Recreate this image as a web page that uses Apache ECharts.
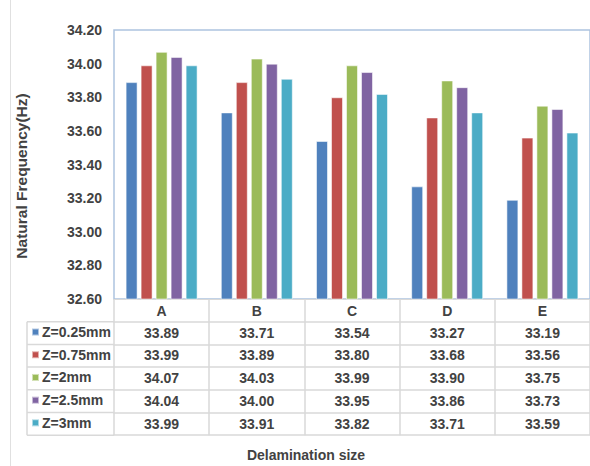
<!DOCTYPE html>
<html>
<head>
<meta charset="utf-8">
<script src="https://cdn.jsdelivr.net/npm/echarts@6/dist/echarts.min.js"></script>
<style>
  html, body { margin: 0; padding: 0; background: #ffffff; }
  #chart { width: 590px; height: 466px; }
</style>
</head>
<body>
<div id="chart"></div>
<script>
// Categories (delamination size) and natural frequency per layer position
const categories = ['A', 'B', 'C', 'D', 'E'];
const seriesNames = ['Z=0.25mm', 'Z=0.75mm', 'Z=2mm', 'Z=2.5mm', 'Z=3mm'];
const z025 = [33.89, 33.71, 33.54, 33.27, 33.19];
const z075 = [33.99, 33.89, 33.80, 33.68, 33.56];
const z2   = [34.07, 34.03, 33.99, 33.90, 33.75];
const z25  = [34.04, 34.00, 33.95, 33.86, 33.73];
const z3   = [33.99, 33.91, 33.82, 33.71, 33.59];
const yMin = 32.6, yMax = 34.2, yStep = 0.2;

const seriesValues = [z025, z075, z2, z25, z3];
const palette = ['#4f81bd', '#c0504d', '#9bbb59', '#8064a2', '#4bacc6'];

// Layout
const W = 590, H = 466;
const gridLeft = 114, gridTop = 30, gridRight = -14, plotBottom = 299;
const rowH = 22.7;
const tableLeft = 27;
const tableBottom = plotBottom + rowH * 6;
const textColor = '#424242';
const lineColor = '#d9d9d9';
const fontFam = '"Liberation Sans", Arial, sans-serif';

const chart = echarts.init(document.getElementById('chart'), null, { renderer: 'svg', width: W, height: H });

// Main category axis (header row) + one axis per data-table row
const xAxes = [{
  type: 'category',
  data: categories,
  gridIndex: 0,
  position: 'bottom',
  axisLine: { show: true, lineStyle: { color: lineColor, width: 1 } },
  axisTick: { show: true, length: tableBottom - plotBottom, interval: 0, lineStyle: { color: lineColor, width: 1.5 } },
  axisLabel: { margin: 5, fontSize: 14, fontWeight: 'bold', color: textColor, fontFamily: fontFam, interval: 0 }
}];
seriesValues.forEach((vals, k) => {
  xAxes.push({
    type: 'category',
    data: categories,
    gridIndex: 0,
    position: 'bottom',
    offset: rowH * (k + 1),
    axisLine: { show: true, lineStyle: { color: lineColor, width: 1.5 } },
    axisTick: { show: false },
    axisLabel: {
      margin: 4, fontSize: 14, fontWeight: 'bold', color: textColor, fontFamily: fontFam, interval: 0,
      formatter: (v, i) => vals[i].toFixed(2)
    }
  });
});
// Closing line of the table
xAxes.push({
  type: 'category',
  data: categories,
  gridIndex: 0,
  position: 'bottom',
  offset: rowH * 6,
  axisLine: { show: true, lineStyle: { color: lineColor, width: 1.5 } },
  axisTick: { show: false },
  axisLabel: { show: false }
});

// One legend per table row, sitting in the row's left cell
const legends = seriesNames.map((name, k) => ({
  data: [name],
  left: 31,
  top: plotBottom + rowH * (k + 1) + rowH / 2 - 8,
  padding: 0,
  itemWidth: 7,
  itemHeight: 7,
  itemGap: 0,
  icon: 'rect',
  selectedMode: false,
  textStyle: { fontSize: 14, fontWeight: 'bold', color: textColor, fontFamily: fontFam, padding: [0, 0, 0, -2] }
}));

// Left cell borders of the legend column
const graphics = [];
for (let k = 1; k <= 6; k++) {
  const y = plotBottom + rowH * k;
  graphics.push({ type: 'line', shape: { x1: tableLeft, y1: y, x2: gridLeft, y2: y }, style: { stroke: lineColor, lineWidth: 1.5 } });
}
graphics.push({ type: 'line', shape: { x1: tableLeft, y1: plotBottom + rowH, x2: tableLeft, y2: tableBottom }, style: { stroke: lineColor, lineWidth: 1.5 } });
// Outer frame line on the left
graphics.push({ type: 'line', shape: { x1: 10.5, y1: 0, x2: 10.5, y2: H }, style: { stroke: '#e0e0e0', lineWidth: 1 } });
// Axis titles
graphics.push({
  type: 'text', x: 21, y: 176, rotation: Math.PI / 2,
  style: { text: 'Natural Frequency(Hz)', fill: textColor, font: 'bold 15.5px ' + fontFam, align: 'center', verticalAlign: 'middle' }
});
graphics.push({
  type: 'text', x: 306, y: 455,
  style: { text: 'Delamination size', fill: textColor, font: 'bold 14px ' + fontFam, align: 'center', verticalAlign: 'middle' }
});

chart.setOption({
  animation: false,
  backgroundColor: '#ffffff',
  grid: {
    left: gridLeft, top: gridTop, right: gridRight, bottom: H - plotBottom,
    show: true, borderColor: '#adc3df', borderWidth: 1.5, backgroundColor: 'transparent'
  },
  legend: legends,
  xAxis: xAxes,
  yAxis: {
    type: 'value',
    min: yMin, max: yMax, interval: yStep,
    axisLine: { show: false },
    axisTick: { show: false },
    splitLine: { show: false },
    axisLabel: {
      margin: 12, fontSize: 14, fontWeight: 'bold', color: textColor, fontFamily: fontFam,
      formatter: v => v.toFixed(2)
    }
  },
  series: seriesNames.map((name, k) => ({
    name: name,
    type: 'bar',
    xAxisIndex: 0,
    data: seriesValues[k],
    barWidth: 12,
    barGap: '25%',
    itemStyle: { color: palette[k], borderColor: 'rgba(255,255,255,0.55)', borderWidth: 1 }
  })),
  graphic: graphics
});
</script>
</body>
</html>
